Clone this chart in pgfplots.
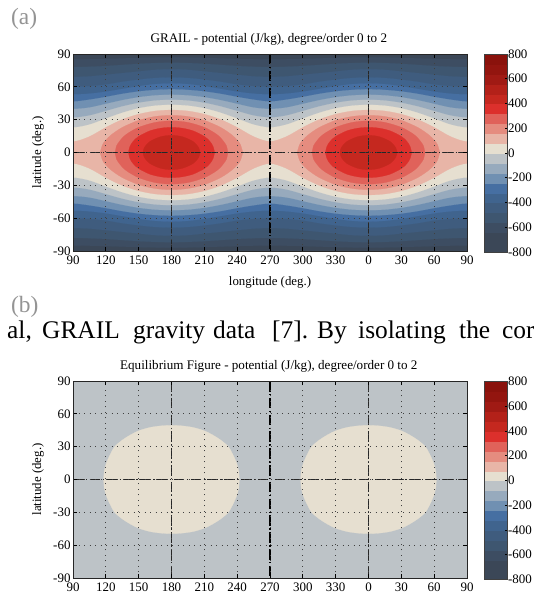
\documentclass[border=0pt]{standalone}
\usepackage{fontspec}
\setmainfont{Liberation Serif}
\usepackage{pgfplots}
\usepackage{pgfplotstable}
\pgfplotsset{compat=1.18}
\definecolor{cA}{HTML}{3B4757}
\definecolor{cB}{HTML}{3D4D62}
\definecolor{cC}{HTML}{3E5670}
\definecolor{cD}{HTML}{3F5C7E}
\definecolor{cE}{HTML}{40648E}
\definecolor{cF}{HTML}{466FA2}
\definecolor{cG}{HTML}{7090B2}
\definecolor{cH}{HTML}{97AABD}
\definecolor{cI}{HTML}{BDC3C7}
\definecolor{cJ}{HTML}{E6DFD0}
\definecolor{cK}{HTML}{E8B5A7}
\definecolor{cL}{HTML}{E58C7F}
\definecolor{cM}{HTML}{E0625A}
\definecolor{cN}{HTML}{DC302C}
\definecolor{cO}{HTML}{C5281F}
\definecolor{cP}{HTML}{B32119}
\definecolor{cQ}{HTML}{A01A14}
\definecolor{cR}{HTML}{93150F}
\definecolor{cS}{HTML}{8A120C}
\pgfplotstableread{
t   a80  a0   m80  m160 m240 m320 m400 m480 m560 m640
60  22.9 30.9 37.8 44.3 50.7 55.5 62   71   79   85.5
75  14.5 25.4 33.7 41.0 48.2 53.7 60.5 69.5 78.3 85.2
90  10   22.8 31.9 39.7 46.5 53   60   69   78   85
105 14.5 25.4 33.7 41.0 48.2 53.7 60.5 69.5 78.3 85.2
120 22.9 30.9 37.8 44.3 50.7 55.5 62   71   79   85.5
135 30.1 36.2 42.0 47.7 53.5 58   64.5 72.5 80   86
150 35.0 40.3 45.3 50.4 55.7 60.5 66.5 74   81   86.5
165 37.9 42.7 47.4 52.1 57.1 62.4 68   75.5 81.7 86.8
180 38.8 43.5 48.1 52.7 57.6 63   68.5 76   82   87
195 37.9 42.7 47.4 52.1 57.1 62.4 68   75.5 81.7 86.8
210 35.0 40.3 45.3 50.4 55.7 60.5 66.5 74   81   86.5
225 30.1 36.2 42.0 47.7 53.5 58   64.5 72.5 80   86
240 22.9 30.9 37.8 44.3 50.7 55.5 62   71   79   85.5
255 14.5 25.4 33.7 41.0 48.2 53.7 60.5 69.5 78.3 85.2
270 10   22.8 31.9 39.7 46.5 53   60   69   78   85
285 14.5 25.4 33.7 41.0 48.2 53.7 60.5 69.5 78.3 85.2
300 22.9 30.9 37.8 44.3 50.7 55.5 62   71   79   85.5
315 30.1 36.2 42.0 47.7 53.5 58   64.5 72.5 80   86
330 35.0 40.3 45.3 50.4 55.7 60.5 66.5 74   81   86.5
345 37.9 42.7 47.4 52.1 57.1 62.4 68   75.5 81.7 86.8
360 38.8 43.5 48.1 52.7 57.6 63   68.5 76   82   87
375 37.9 42.7 47.4 52.1 57.1 62.4 68   75.5 81.7 86.8
390 35.0 40.3 45.3 50.4 55.7 60.5 66.5 74   81   86.5
405 30.1 36.2 42.0 47.7 53.5 58   64.5 72.5 80   86
420 22.9 30.9 37.8 44.3 50.7 55.5 62   71   79   85.5
435 14.5 25.4 33.7 41.0 48.2 53.7 60.5 69.5 78.3 85.2
450 10   22.8 31.9 39.7 46.5 53   60   69   78   85
465 14.5 25.4 33.7 41.0 48.2 53.7 60.5 69.5 78.3 85.2
480 22.9 30.9 37.8 44.3 50.7 55.5 62   71   79   85.5
}\tbl
\pgfplotstableread{
d p
-65.2 0
-63 7.2
-60 11.4
-55 16.2
-45 22.9
-30 29.4
-15 32.9
0 34
15 32.9
30 29.4
45 22.9
55 16.2
60 11.4
63 7.2
65.2 0
}\Pa
\pgfplotstableread{
d p
-51.5 0
-50 6.5
-45 13.3
-40 17.5
-30 23
-15 27.5
0 28.9
15 27.5
30 23
40 17.5
45 13.3
50 6.5
51.5 0
}\Pb
\pgfplotstableread{
d p
-39.4 0
-38 5.5
-35 10.3
-30 14.7
-20 19.7
-10 22.2
0 23
10 22.2
20 19.7
30 14.7
35 10.3
38 5.5
39.4 0
}\Pc
\pgfplotstableread{
d p
-26 0
-25 4.2
-20 9.9
-10 14.4
0 15.7
10 14.4
20 9.9
25 4.2
26 0
}\Pd
\pgfplotstableread{
d p
-62 0
-61.4 8
-59.5 15
-56 23
-52 30
-45 36
-38 40.5
-30 44.5
-20 47.5
-10 49
0 49.5
10 49
20 47.5
30 44.5
38 40.5
45 36
52 30
56 23
59.5 15
61.4 8
62 0
}\Pe
\newcommand\band[2]{%
 \addplot[smooth,fill=#2,draw=#2,line width=.2pt] table[x=t,y=#1]{\tbl} \closedcycle;
 \addplot[smooth,fill=#2,draw=#2,line width=.2pt] table[x=t,y expr=-\thisrow{#1}]{\tbl} \closedcycle;}
\newcommand\peak[3]{%
 \addplot[smooth,fill=#2,draw=#2,line width=.2pt] table[x expr=#3+\thisrow{d},y=p]{#1} \closedcycle;
 \addplot[smooth,fill=#2,draw=#2,line width=.2pt] table[x expr=#3+\thisrow{d},y expr=-\thisrow{p}]{#1} \closedcycle;}
\newcommand\peaks[2]{\peak{#1}{#2}{180}\peak{#1}{#2}{360}}
\newcommand\dashes{%
 \addplot[black!85,line width=.95pt,dash pattern=on 10.5bp off 2.5bp on 1.3bp off 2.5bp] coordinates {(90,0)(450,0)};
 \addplot[black!85,line width=.95pt,dash pattern=on 10.5bp off 2.5bp on 1.3bp off 2.5bp] coordinates {(180,90)(180,-90)};
 \addplot[black!85,line width=.95pt,dash pattern=on 10.5bp off 2.5bp on 1.3bp off 2.5bp] coordinates {(360,90)(360,-90)};
 \addplot[black,line width=1.6pt,dash pattern=on 10.5bp off 2.5bp on 1.3bp off 2.5bp] coordinates {(270,90)(270,-90)};}
\newcommand\cb[3]{\addplot[fill=#3,draw=#3,line width=.1pt] coordinates {(0,#1)(1,#1)(1,#2)(0,#2)} --cycle;}
\newcommand\cbar{%
 \cb{-800}{-720}{cA}\cb{-720}{-640}{cA}\cb{-640}{-560}{cB}\cb{-560}{-480}{cC}\cb{-480}{-400}{cD}
 \cb{-400}{-320}{cE}\cb{-320}{-240}{cF}\cb{-240}{-160}{cG}\cb{-160}{-80}{cH}\cb{-80}{0}{cI}
 \cb{0}{80}{cJ}\cb{80}{160}{cK}\cb{160}{240}{cL}\cb{240}{320}{cM}\cb{320}{400}{cN}
 \cb{400}{480}{cO}\cb{480}{560}{cP}\cb{560}{640}{cQ}\cb{640}{720}{cR}\cb{720}{800}{cS}}
\newcommand\wrd[2]{\node[anchor=base west,font=\fontsize{25.5}{26}\selectfont,inner sep=0pt] at (#2,253) {#1};}
\pgfplotsset{
 mainax/.style={
  scale only axis,width=394bp,height=197bp,
  xmin=90,xmax=450,ymin=-90,ymax=90,axis on top,
  xtick={90,120,...,450},
  xticklabels={90,120,150,180,210,240,270,300,330,0,30,60,90},
  ytick={-90,-60,...,90},
  yticklabels={-90,-60,-30,0,30,60,90},
  tick align=inside,major tick length=4bp,
  tick style={black,line width=.7pt},
  axis line style={draw=black!85,line width=.9pt},
  grid=major,
  grid style={black!75,line width=.7pt,dash pattern=on 1bp off 4.5bp},
  tick label style={font=\fontsize{13}{13}\selectfont},
  xticklabel style={yshift=-1.5bp},
  yticklabel style={xshift=1bp},
  every axis y label/.style={at={(axis description cs:-0.0888,0.5)},rotate=90,anchor=center,font=\fontsize{12.9}{13}\selectfont},
  every axis x label/.style={at={(axis description cs:0.5,-0.162)},anchor=center,font=\fontsize{12.9}{13}\selectfont},
  every axis title/.style={at={(axis description cs:0.497,1.076)},anchor=center,font=\fontsize{13.15}{13}\selectfont},
 },
 cbax/.style={
  scale only axis,width=22.5bp,height=198bp,
  xmin=0,xmax=1,ymin=-800,ymax=800,axis on top,
  xtick=\empty,ytick={-800,-600,...,800},
  yticklabels={-800,-600,-400,-200,0,200,400,600,800},
  ytick pos=right,
  yticklabel style={font=\fontsize{13}{13}\selectfont,anchor=west,xshift=-2.5bp},
  tick align=inside,major tick length=2bp,tick style={black,line width=.7pt},
  axis line style={draw=black!75,line width=.9pt},
 },
}
\begin{document}
\begin{tikzpicture}[x=1bp,y=1bp]
\path[use as bounding box] (0,0) rectangle (534,592);
\node[anchor=base west,text=black!42,font=\fontsize{23.5}{24}\selectfont,inner sep=0pt] at (11,567) {(a)};
\node[anchor=base west,text=black!42,font=\fontsize{23.5}{24}\selectfont,inner sep=0pt] at (11,279) {(b)};
\wrd{al,}{7}\wrd{GRAIL}{42}\wrd{gravity}{133}\wrd{data}{213}\wrd{[7].}{272}\wrd{By}{317}\wrd{isolating}{358}\wrd{the}{459}\wrd{cor}{502}
\begin{axis}[mainax,at={(73bp,341bp)},anchor=south west,
  title={GRAIL - potential (J/kg), degree/order 0 to 2},
  xlabel={longitude (deg.)},ylabel={latitude (deg.)}]
 \addplot[fill=cA,draw=none] coordinates {(90,-90)(450,-90)(450,90)(90,90)} --cycle;
 \band{m640}{cB}\band{m560}{cC}\band{m480}{cD}\band{m400}{cE}\band{m320}{cF}
 \band{m240}{cG}\band{m160}{cH}\band{m80}{cI}\band{a0}{cJ}\band{a80}{cK}
 \peaks{\Pa}{cL}\peaks{\Pb}{cM}\peaks{\Pc}{cN}\peaks{\Pd}{cO}
 \dashes
\end{axis}
\begin{axis}[cbax,at={(484.5bp,340bp)},anchor=south west]
 \cbar
\end{axis}
\begin{axis}[mainax,at={(73bp,14bp)},anchor=south west,
  title={Equilibrium Figure - potential (J/kg), degree/order 0 to 2},
  ylabel={latitude (deg.)}]
 \addplot[fill=cI,draw=none] coordinates {(90,-90)(450,-90)(450,90)(90,90)} --cycle;
 \peaks{\Pe}{cJ}
 \dashes
\end{axis}
\begin{axis}[cbax,at={(484.5bp,12.5bp)},anchor=south west]
 \cbar
\end{axis}
\end{tikzpicture}
\end{document}
